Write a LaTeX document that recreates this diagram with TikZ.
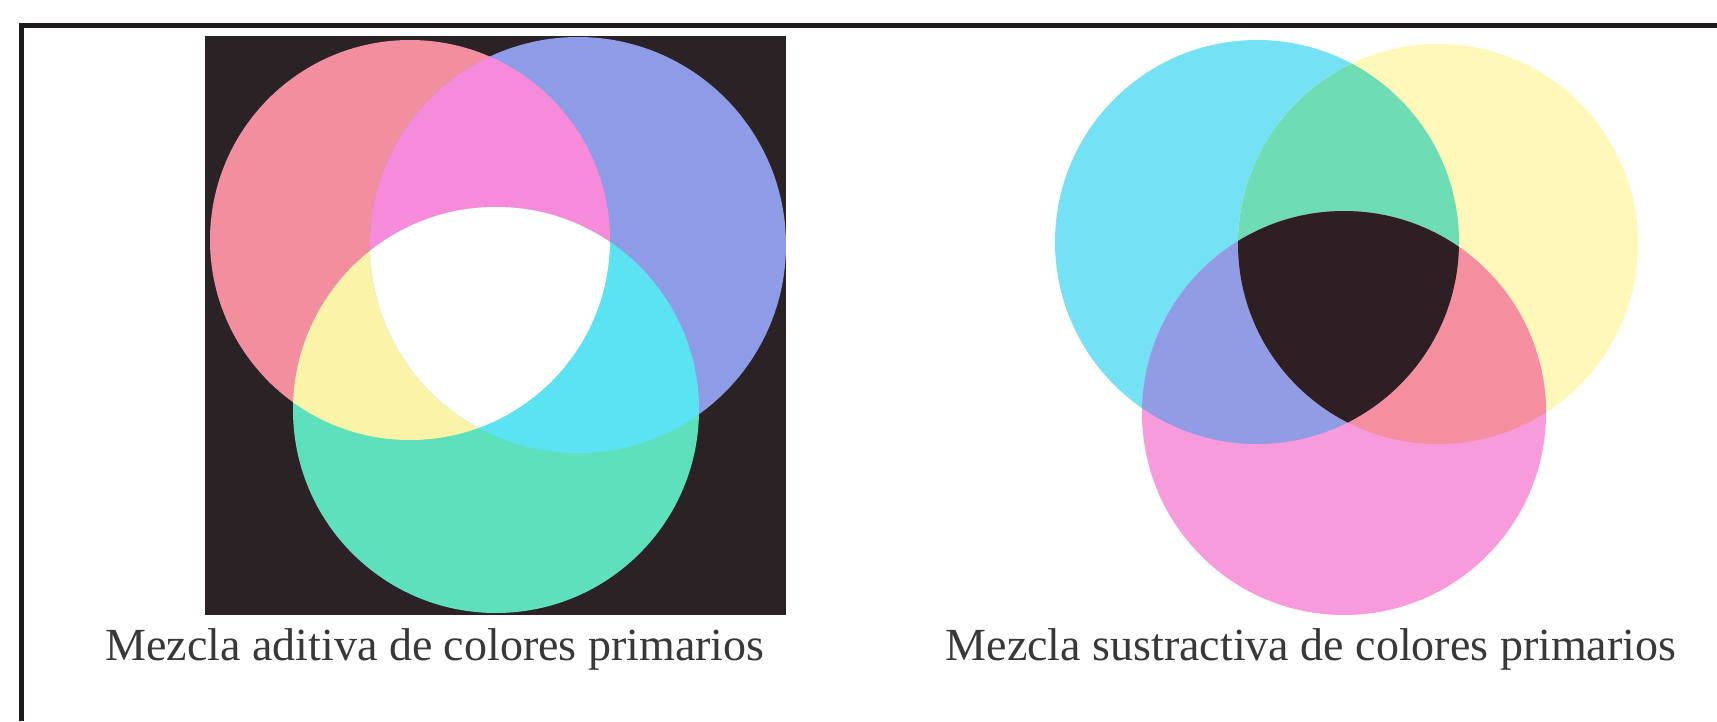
\documentclass[tikz,border=0pt]{standalone}
\usepackage{fontspec}
\setmainfont{Liberation Serif}
\definecolor{frameline}{HTML}{1E1A1C}
\definecolor{addbg}{HTML}{2B2226}
\definecolor{addred}{HTML}{F38E9E}
\definecolor{addblue}{HTML}{8E9BE6}
\definecolor{addgreen}{HTML}{5FE0BC}
\definecolor{addmag}{HTML}{F78BDB}
\definecolor{addcyan}{HTML}{5BE3F3}
\definecolor{addyel}{HTML}{FBF4A8}
\definecolor{subcyan}{HTML}{74E2F4}
\definecolor{subyel}{HTML}{FFF8B8}
\definecolor{submag}{HTML}{F79BDD}
\definecolor{subgreen}{HTML}{6EDDB5}
\definecolor{subblue}{HTML}{929CE4}
\definecolor{subred}{HTML}{F58E9E}
\definecolor{subblack}{HTML}{2D1F23}
\definecolor{captext}{HTML}{383838}
\newcommand\aRed{(410,240) circle (200pt)}
\newcommand\aBlue{(578,245) circle (208pt)}
\newcommand\aGreen{(496,410) circle (203pt)}
\newcommand\sCyan{(1257,242) circle (202pt)}
\newcommand\sYel{(1438,244) circle (200pt)}
\newcommand\sMag{(1344,413) circle (202pt)}
\tikzset{caption/.style={anchor=base, text=captext, font=\fontsize{46}{50}\selectfont, inner sep=0pt}}
\begin{document}
\begin{tikzpicture}[x=1pt,y=-1pt]
\useasboundingbox (0,0) rectangle (1717,721);
\fill[white] (0,0) rectangle (1717,721);
\draw[line width=5pt, frameline] (1717,25) -- (21,25) -- (21,721);
% additive
\fill[addbg] (205,36) rectangle (786,615);
\begin{scope}
\clip (205,36) rectangle (786,615);
\fill[addred] \aRed;
\fill[addblue] \aBlue;
\fill[addgreen] \aGreen;
\begin{scope}\clip \aRed; \fill[addmag] \aBlue; \end{scope}
\begin{scope}\clip \aGreen; \fill[addyel] \aRed; \end{scope}
\begin{scope}\clip \aGreen; \fill[addcyan] \aBlue; \end{scope}
\begin{scope}\clip \aGreen; \clip \aRed; \fill[white] \aBlue; \end{scope}
\end{scope}
% subtractive
\fill[subcyan] \sCyan;
\fill[subyel] \sYel;
\fill[submag] \sMag;
\begin{scope}\clip \sCyan; \fill[subgreen] \sYel; \end{scope}
\begin{scope}\clip \sMag; \fill[subblue] \sCyan; \end{scope}
\begin{scope}\clip \sMag; \fill[subred] \sYel; \end{scope}
\begin{scope}\clip \sMag; \clip \sCyan; \fill[subblack] \sYel; \end{scope}
% captions
\node[caption] (capA) at (435,660) {Mezcla aditiva de colores primarios};
\node[caption] (capS) at (1311,660) {Mezcla sustractiva de colores primarios};
\end{tikzpicture}
\end{document}
